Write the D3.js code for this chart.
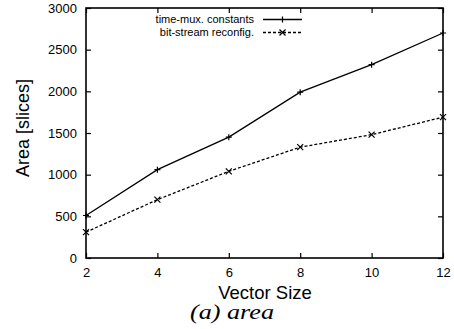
<!DOCTYPE html>
<html>
<head>
<meta charset="utf-8">
<script src="https://cdn.jsdelivr.net/npm/d3@7"></script>
<style>
  html, body { margin: 0; padding: 0; background: #fff; }
  svg { display: block; }
  text { font-family: "Liberation Sans", Arial, sans-serif; fill: #000; }
</style>
</head>
<body>
<svg id="chart" width="454" height="329"></svg>
<script>
// Area of the design versus vector size
const vectorSizes = [2, 4, 6, 8, 10, 12];
const timeMuxConstants = [510, 1060, 1450, 1990, 2320, 2700];
const bitStreamReconfig = [310, 700, 1040, 1330, 1480, 1690];
const yTicks = [0, 500, 1000, 1500, 2000, 2500, 3000];
const xTicks = [2, 4, 6, 8, 10, 12];
const seriesNames = ["time-mux. constants", "bit-stream reconfig."];

const svg = d3.select("#chart");
const plotLeft = 86, plotRight = 443, plotTop = 8, plotBottom = 258;

const x = d3.scaleLinear().domain([2, 12]).range([plotLeft, plotRight]);
const y = d3.scaleLinear().domain([0, 3000]).range([plotBottom, plotTop]);

// Frame ticks, pointing inward on all four sides
const tickLen = 5;
const g = svg.append("g");
const ax = (axis, tx, ty) => g.append("g").attr("transform", `translate(${tx},${ty})`).call(axis);

ax(d3.axisBottom(x).tickValues(xTicks).tickFormat(d3.format("d")).tickSizeInner(-tickLen).tickSizeOuter(0).tickPadding(10), 0, plotBottom);
ax(d3.axisLeft(y).tickValues(yTicks).tickFormat(d3.format("d")).tickSizeInner(-tickLen).tickSizeOuter(0).tickPadding(9), plotLeft, 0);
ax(d3.axisTop(x).tickValues(xTicks).tickSizeInner(-tickLen).tickSizeOuter(0).tickFormat(""), 0, plotTop);
ax(d3.axisRight(y).tickValues(yTicks).tickSizeInner(-tickLen).tickSizeOuter(0).tickFormat(""), plotRight, 0);

g.selectAll(".domain").remove();
g.selectAll(".tick line").attr("stroke", "#000").attr("stroke-width", 1.2);
g.selectAll(".tick text")
  .style("font-family", "'Liberation Sans', Arial, sans-serif")
  .style("font-size", "13px").attr("fill", "#000");

// Plot frame
svg.append("rect")
  .attr("x", plotLeft).attr("y", plotTop)
  .attr("width", plotRight - plotLeft).attr("height", plotBottom - plotTop)
  .attr("fill", "none").attr("stroke", "#000").attr("stroke-width", 1.6);

const line = d3.line().x(d => x(d[0])).y(d => y(d[1]));
const seriesData = [
  { name: seriesNames[0], values: vectorSizes.map((v, i) => [v, timeMuxConstants[i]]), dash: null, marker: "plus" },
  { name: seriesNames[1], values: vectorSizes.map((v, i) => [v, bitStreamReconfig[i]]), dash: "3,2", marker: "cross" }
];

function drawMarker(sel, type, cx, cy) {
  const s = 3;
  const p = type === "plus"
    ? `M${cx - s},${cy}H${cx + s}M${cx},${cy - s}V${cy + s}`
    : `M${cx - s},${cy - s}L${cx + s},${cy + s}M${cx - s},${cy + s}L${cx + s},${cy - s}`;
  sel.append("path").attr("d", p).attr("stroke", "#000").attr("stroke-width", 1.2).attr("fill", "none");
}

seriesData.forEach(s => {
  svg.append("path")
    .datum(s.values)
    .attr("d", line)
    .attr("fill", "none").attr("stroke", "#000").attr("stroke-width", 1.3)
    .attr("stroke-dasharray", s.dash);
  s.values.forEach(d => drawMarker(svg, s.marker, x(d[0]), y(d[1])));
});

// Legend
const legendRows = [19.5, 32.5];
seriesData.forEach((s, i) => {
  const ly = legendRows[i];
  svg.append("text")
    .attr("x", 254).attr("y", ly).attr("dy", "0.35em")
    .attr("text-anchor", "end").style("font-size", "11px")
    .text(s.name);
  svg.append("line")
    .attr("x1", 263).attr("x2", 302).attr("y1", ly).attr("y2", ly)
    .attr("stroke", "#000").attr("stroke-width", 1.3)
    .attr("stroke-dasharray", s.dash);
  drawMarker(svg, s.marker, 282.5, ly);
});

// Axis titles
svg.append("text")
  .attr("transform", `translate(29,128) rotate(-90)`)
  .attr("text-anchor", "middle").style("font-size", "18px")
  .text("Area [slices]");

svg.append("text")
  .attr("x", 265).attr("y", 299)
  .attr("text-anchor", "middle").style("font-size", "18.5px")
  .text("Vector Size");

// Caption
svg.append("text")
  .attr("x", 190).attr("y", 319)
  .attr("textLength", 84).attr("lengthAdjust", "spacingAndGlyphs")
  .style("font-family", "'Liberation Serif', 'Times New Roman', serif")
  .style("font-style", "italic").style("font-size", "22px")
  .text("(a) area");
</script>
</body>
</html>
